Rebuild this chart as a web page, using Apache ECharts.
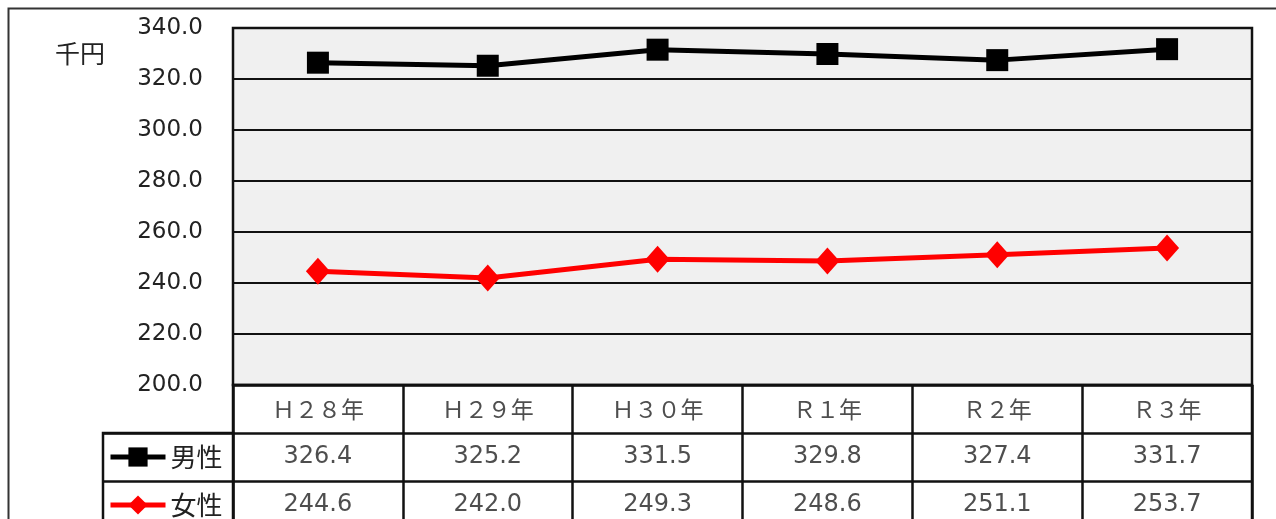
<!DOCTYPE html>
<html>
<head>
<meta charset="utf-8">
<script src="https://cdn.jsdelivr.net/npm/echarts@6/dist/echarts.min.js"></script>
<style>
html,body{margin:0;padding:0;background:#fff;}
#c{width:1276px;height:519px;}
</style>
</head>
<body>
<div id="c"></div>
<script>
var categories = ['Ｈ２８年','Ｈ２９年','Ｈ３０年','Ｒ１年','Ｒ２年','Ｒ３年'];
var maleValues = [326.4, 325.2, 331.5, 329.8, 327.4, 331.7];
var femaleValues = [244.6, 242.0, 249.3, 248.6, 251.1, 253.7];
var seriesNames = ['男性', '女性'];
var unitLabel = '千円';
var yMin = 200, yMax = 340, yStep = 20;

var rowKeys = ['head', seriesNames[0], seriesNames[1]];
var cellData = [];
categories.forEach(function (c, i) {
  cellData.push({ value: [c, 'head', c], label: { fontFamily: 'Noto Sans CJK JP', fontSize: 23 } });
  cellData.push({ value: [c, seriesNames[0], maleValues[i].toFixed(1)] });
  cellData.push({ value: [c, seriesNames[1], femaleValues[i].toFixed(1)] });
});

var lineC = '#111';
var legendText = { fontFamily: 'Noto Sans CJK JP', fontSize: 26, lineHeight: 26, color: '#222' };
function legendFor(name, top) {
  return {
    data: [name], orient: 'horizontal', left: 108, top: top,
    itemWidth: 55, itemHeight: 24, padding: 0,
    lineStyle: { width: 5 },
    textStyle: legendText,
    selectedMode: false
  };
}

var chart = echarts.init(document.getElementById('c'), null, { renderer: 'canvas' });
chart.setOption({
  animation: false,
  backgroundColor: '#fff',
  textStyle: { fontFamily: 'DejaVu Sans, Noto Sans CJK JP' },
  title: {
    text: unitLabel, left: 50, top: 36,
    textStyle: { fontFamily: 'Noto Sans CJK JP', fontSize: 25, fontWeight: 'normal', color: '#222' }
  },
  graphic: [{
    type: 'rect', silent: true, z: -1,
    shape: { x: 8.5, y: 8.5, width: 1400, height: 700 },
    style: { fill: 'none', stroke: '#333', lineWidth: 2 }
  }],
  legend: [legendFor(seriesNames[0], 444), legendFor(seriesNames[1], 492)],
  grid: [
    { left: 233, top: 28, width: 1019, height: 357, show: true, backgroundColor: '#f0f0f0', borderColor: lineC, borderWidth: 2.5, containLabel: false, outerBoundsMode: 'none' },
    { left: 233, top: 385, width: 1019, height: 144, show: true, backgroundColor: '#fff', borderColor: lineC, borderWidth: 2.5, containLabel: false, outerBoundsMode: 'none' },
    { left: 103, top: 433, width: 130, height: 96, show: true, backgroundColor: '#fff', borderColor: lineC, borderWidth: 2.5, containLabel: false, outerBoundsMode: 'none' }
  ],
  xAxis: [
    { type: 'category', gridIndex: 0, data: categories, boundaryGap: true,
      axisLine: { show: false }, axisTick: { show: false }, axisLabel: { show: false }, splitLine: { show: false } },
    { type: 'category', gridIndex: 1, data: categories, boundaryGap: true,
      axisLine: { show: false }, axisTick: { show: false }, axisLabel: { show: false },
      splitLine: { show: true, lineStyle: { color: lineC, width: 2.5 } } },
    { type: 'value', gridIndex: 2, show: false }
  ],
  yAxis: [
    { type: 'value', gridIndex: 0, min: yMin, max: yMax, interval: yStep,
      axisLine: { show: false }, axisTick: { show: false },
      axisLabel: { margin: 30, fontFamily: 'DejaVu Sans', fontSize: 23, color: '#222', formatter: function (v) { return v.toFixed(1); } },
      splitLine: { show: true, lineStyle: { color: lineC, width: 2 } } },
    { type: 'category', gridIndex: 1, data: rowKeys, inverse: true, boundaryGap: true,
      axisLine: { show: false }, axisTick: { show: false }, axisLabel: { show: false },
      splitLine: { show: true, lineStyle: { color: lineC, width: 2.5 } } },
    { type: 'category', gridIndex: 2, data: seriesNames, inverse: true, boundaryGap: true,
      axisLine: { show: false }, axisTick: { show: false }, axisLabel: { show: false },
      splitLine: { show: true, lineStyle: { color: lineC, width: 2.5 } } }
  ],
  series: [
    { name: seriesNames[0], type: 'line', xAxisIndex: 0, yAxisIndex: 0, data: maleValues,
      symbol: 'rect', symbolSize: 22, z: 5,
      lineStyle: { color: '#000', width: 5 }, itemStyle: { color: '#000' } },
    { name: seriesNames[1], type: 'line', xAxisIndex: 0, yAxisIndex: 0, data: femaleValues,
      symbol: 'diamond', symbolSize: [24, 27], z: 5,
      lineStyle: { color: '#ff0000', width: 5 }, itemStyle: { color: '#ff0000' } },
    { name: 'table', type: 'scatter', xAxisIndex: 1, yAxisIndex: 1, data: cellData,
      symbolSize: 1, itemStyle: { color: 'transparent' }, silent: true,
      label: { show: true, position: 'inside', formatter: function (p) { return p.value[2]; },
        fontFamily: 'DejaVu Sans', fontSize: 24, color: '#222' } }
  ]
});
</script>
</body>
</html>
